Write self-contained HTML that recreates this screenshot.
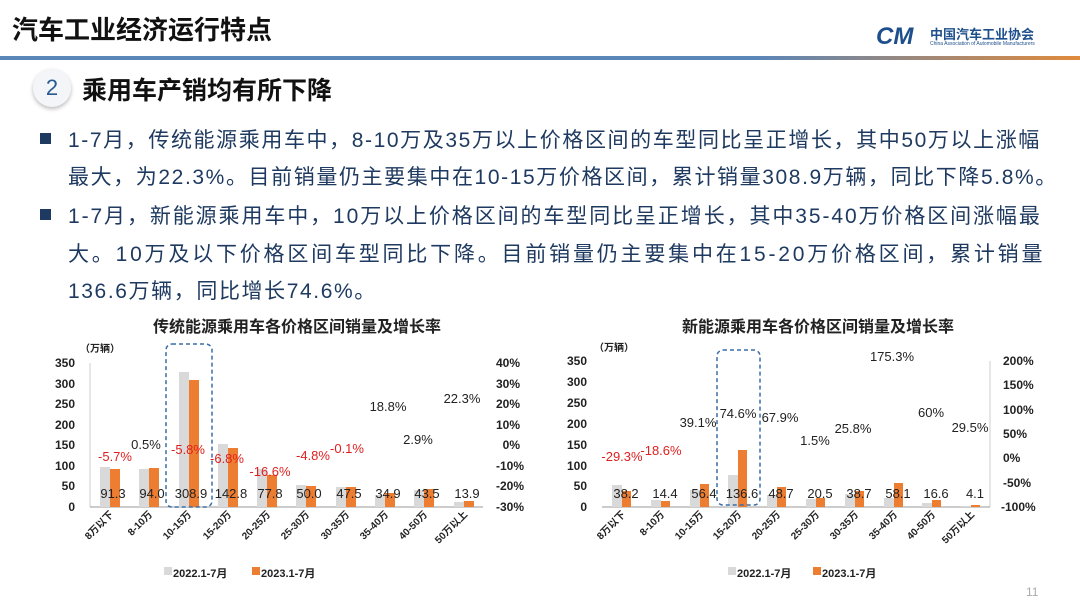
<!DOCTYPE html>
<html><head><meta charset="utf-8"><style>
body{margin:0;width:1080px;height:607px;background:#fff;overflow:hidden;position:relative;font-family:"Liberation Sans","Noto Sans CJK SC",sans-serif}
.a{position:absolute;white-space:nowrap}
.t{color:#1f3a60;font-size:21px;left:68px;letter-spacing:1.6px}
.sq{position:absolute;left:40px;width:11px;height:11px;background:#1f3a60}
</style></head><body>
<div class="a" style="left:12px;top:10px;font-size:26px;font-weight:bold;color:#111">汽车工业经济运行特点</div>
<div class="a" style="left:0;top:56px;width:1080px;height:4px;background:linear-gradient(90deg,#5a86b8 0%,#5a86b8 70%,#e08a3c 100%)"></div>
<div class="a" style="left:876px;top:23px;font-size:24px;font-weight:bold;font-style:italic;color:#1d4f8c">CM</div>
<div class="a" style="left:930px;top:24px;font-size:13px;font-weight:bold;color:#1d4f8c">中国汽车工业协会</div>
<div class="a" style="left:930px;top:41px;font-size:5px;color:#1d4f8c">China Association of Automobile Manufacturers</div>
<div class="a" style="left:33px;top:69px;width:38px;height:38px;border-radius:50%;background:#f3f5f8;box-shadow:0 2px 4px #bbb;text-align:center;line-height:38px;font-size:22px;color:#2a5a90">2</div>
<div class="a" style="left:82px;top:71px;font-size:25px;font-weight:bold;color:#111">乘用车产销均有所下降</div>
<div class="sq" style="top:133px"></div>
<div class="a t" style="top:124px">1-7月，传统能源乘用车中，8-10万及35万以上价格区间的车型同比呈正增长，其中50万以上涨幅</div>
<div class="a t" style="top:161px">最大，为22.3%。目前销量仍主要集中在10-15万价格区间，累计销量308.9万辆，同比下降5.8%。</div>
<div class="sq" style="top:209px"></div>
<div class="a t" style="top:200px;letter-spacing:1.9px">1-7月，新能源乘用车中，10万以上价格区间的车型同比呈正增长，其中35-40万价格区间涨幅最</div>
<div class="a t" style="top:238px;letter-spacing:2.8px">大。10万及以下价格区间车型同比下降。目前销量仍主要集中在15-20万价格区间，累计销量</div>
<div class="a t" style="top:275px">136.6万辆，同比增长74.6%。</div>
<svg class="a" style="left:0;top:0" width="1080" height="607" font-family="Liberation Sans,Noto Sans CJK SC,sans-serif">
<g font-size="12" font-weight="bold" fill="#222">
<text x="297" y="332" text-anchor="middle" font-size="16">传统能源乘用车各价格区间销量及增长率</text>
<text x="80" y="352" font-size="10">（万辆）</text>
<g text-anchor="end">
<text x="75" y="511">0</text><text x="75" y="490">50</text><text x="75" y="470">100</text><text x="75" y="449">150</text><text x="75" y="429">200</text><text x="75" y="408">250</text><text x="75" y="388">300</text><text x="75" y="367">350</text></g>
<g text-anchor="end">
<text x="524" y="511">-30%</text><text x="524" y="490">-20%</text><text x="524" y="470">-10%</text><text x="520" y="449">0%</text><text x="520" y="429">10%</text><text x="520" y="408">20%</text><text x="520" y="388">30%</text><text x="520" y="367">40%</text></g>
<line x1="90" y1="363" x2="90" y2="507" stroke="#ccc"/>
<line x1="90" y1="507" x2="483" y2="507" stroke="#999"/>
<g fill="#d9d9d9">
<rect x="100" y="467" width="10" height="40"/><rect x="139" y="469" width="10" height="38"/><rect x="179" y="372" width="10" height="135"/><rect x="218" y="444" width="10" height="63"/><rect x="257" y="469" width="10" height="38"/><rect x="296" y="485" width="10" height="22"/><rect x="336" y="487" width="10" height="20"/><rect x="375" y="495" width="10" height="12"/><rect x="414" y="490" width="10" height="17"/><rect x="454" y="502" width="10" height="5"/></g>
<g fill="#ed7d31">
<rect x="110" y="469" width="10" height="38"/><rect x="149" y="468" width="10" height="39"/><rect x="189" y="380" width="10" height="127"/><rect x="228" y="448" width="10" height="59"/><rect x="267" y="475" width="10" height="32"/><rect x="306" y="486" width="10" height="21"/><rect x="346" y="487" width="10" height="20"/><rect x="385" y="493" width="10" height="14"/><rect x="424" y="489" width="10" height="18"/><rect x="464" y="501" width="10" height="6"/></g>
<rect x="166" y="344" width="46" height="163" rx="6" fill="none" stroke="#3a6ea5" stroke-width="1.5" stroke-dasharray="4,3"/>
<g text-anchor="middle" font-weight="normal" font-size="13">
<text x="113" y="498">91.3</text><text x="152" y="498">94.0</text><text x="191" y="498">308.9</text><text x="231" y="498">142.8</text><text x="270" y="498">77.8</text><text x="309" y="498">50.0</text><text x="349" y="498">47.5</text><text x="388" y="498">34.9</text><text x="427" y="498">43.5</text><text x="467" y="498">13.9</text>
<g fill="#e02020"><text x="115" y="461">-5.7%</text><text x="188" y="454">-5.8%</text><text x="227" y="463">-6.8%</text><text x="270" y="476">-16.6%</text><text x="313" y="460">-4.8%</text><text x="347" y="453">-0.1%</text></g>
<text x="146" y="449">0.5%</text><text x="388" y="411">18.8%</text><text x="418" y="444">2.9%</text><text x="462" y="403">22.3%</text></g>
<g text-anchor="end" font-size="10">
<text transform="translate(114,515) rotate(-45)">8万以下</text><text transform="translate(153,515) rotate(-45)">8-10万</text><text transform="translate(192,515) rotate(-45)">10-15万</text><text transform="translate(232,515) rotate(-45)">15-20万</text><text transform="translate(271,515) rotate(-45)">20-25万</text><text transform="translate(310,515) rotate(-45)">25-30万</text><text transform="translate(350,515) rotate(-45)">30-35万</text><text transform="translate(389,515) rotate(-45)">35-40万</text><text transform="translate(428,515) rotate(-45)">40-50万</text><text transform="translate(468,515) rotate(-45)">50万以上</text></g>
<rect x="164" y="567" width="8" height="8" fill="#d9d9d9"/><text x="173" y="577" font-size="11">2022.1-7月</text>
<rect x="252" y="567" width="8" height="8" fill="#ed7d31"/><text x="261" y="577" font-size="11">2023.1-7月</text>

<text x="818" y="332" text-anchor="middle" font-size="16">新能源乘用车各价格区间销量及增长率</text>
<text x="594" y="351" font-size="10">（万辆）</text>
<g text-anchor="end">
<text x="587" y="511">0</text><text x="587" y="490">50</text><text x="587" y="470">100</text><text x="587" y="449">150</text><text x="587" y="428">200</text><text x="587" y="407">250</text><text x="587" y="386">300</text><text x="587" y="365">350</text></g>
<g>
<text x="1001" y="511">-100%</text><text x="1003" y="487">-50%</text><text x="1003" y="462">0%</text><text x="1003" y="438">50%</text><text x="1003" y="414">100%</text><text x="1003" y="389">150%</text><text x="1003" y="365">200%</text></g>
<line x1="990" y1="361" x2="990" y2="507" stroke="#ccc"/>
<line x1="602" y1="507" x2="990" y2="507" stroke="#999"/>
<g fill="#d9d9d9">
<rect x="612" y="485" width="10" height="22"/><rect x="651" y="500" width="10" height="7"/><rect x="690" y="490" width="10" height="17"/><rect x="728" y="475" width="10" height="32"/><rect x="767" y="495" width="10" height="12"/><rect x="806" y="499" width="10" height="8"/><rect x="845" y="494" width="10" height="13"/><rect x="884" y="498" width="10" height="9"/><rect x="922" y="503" width="10" height="4"/><rect x="961" y="506" width="10" height="1"/></g>
<g fill="#ed7d31">
<rect x="622" y="491" width="9" height="16"/><rect x="661" y="501" width="9" height="6"/><rect x="700" y="484" width="9" height="23"/><rect x="738" y="450" width="9" height="57"/><rect x="777" y="487" width="9" height="20"/><rect x="816" y="498" width="9" height="9"/><rect x="855" y="491" width="9" height="16"/><rect x="894" y="483" width="9" height="24"/><rect x="932" y="500" width="9" height="7"/><rect x="971" y="505" width="9" height="2"/></g>
<rect x="717" y="350" width="43" height="155" rx="6" fill="none" stroke="#3a6ea5" stroke-width="1.5" stroke-dasharray="4,3"/>
<g text-anchor="middle" font-weight="normal" font-size="13">
<text x="626" y="498">38.2</text><text x="665" y="498">14.4</text><text x="704" y="498">56.4</text><text x="742" y="498">136.6</text><text x="781" y="498">48.7</text><text x="820" y="498">20.5</text><text x="859" y="498">38.7</text><text x="898" y="498">58.1</text><text x="936" y="498">16.6</text><text x="975" y="498">4.1</text>
<g fill="#e02020"><text x="622" y="461">-29.3%</text><text x="661" y="455">-18.6%</text></g>
<text x="698" y="427">39.1%</text><text x="738" y="418">74.6%</text><text x="780" y="422">67.9%</text><text x="815" y="445">1.5%</text><text x="853" y="433">25.8%</text><text x="892" y="361">175.3%</text><text x="931" y="417">60%</text><text x="970" y="432">29.5%</text></g>
<g text-anchor="end" font-size="10">
<text transform="translate(626,515) rotate(-45)">8万以下</text><text transform="translate(665,515) rotate(-45)">8-10万</text><text transform="translate(704,515) rotate(-45)">10-15万</text><text transform="translate(742,515) rotate(-45)">15-20万</text><text transform="translate(781,515) rotate(-45)">20-25万</text><text transform="translate(820,515) rotate(-45)">25-30万</text><text transform="translate(859,515) rotate(-45)">30-35万</text><text transform="translate(898,515) rotate(-45)">35-40万</text><text transform="translate(936,515) rotate(-45)">40-50万</text><text transform="translate(975,515) rotate(-45)">50万以上</text></g>
<rect x="728" y="567" width="8" height="8" fill="#d9d9d9"/><text x="737" y="577" font-size="11">2022.1-7月</text>
<rect x="813" y="567" width="8" height="8" fill="#ed7d31"/><text x="822" y="577" font-size="11">2023.1-7月</text>
</g>
<text x="1026" y="596" font-size="12" fill="#aaa">11</text>
</svg>
</body></html>
